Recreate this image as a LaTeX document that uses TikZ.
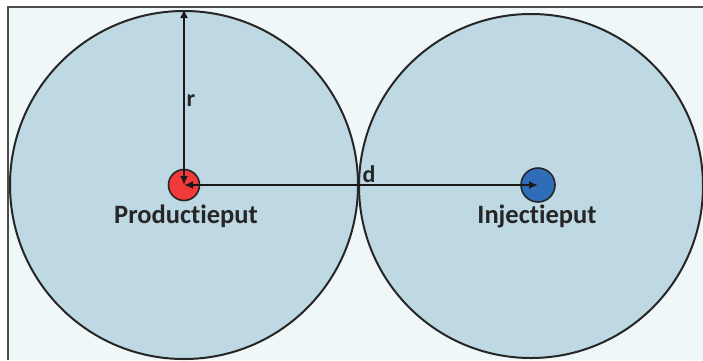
\documentclass[tikz,border=0pt]{standalone}
\usepackage{fontspec}
\setmainfont[Ligatures=NoCommon]{Carlito}
\usetikzlibrary{arrows.meta}
\definecolor{bgc}{HTML}{F0F7F9}
\definecolor{circfill}{HTML}{BFD9E4}
\definecolor{redput}{HTML}{F23A3A}
\definecolor{blueput}{HTML}{2F6DB8}
\tikzset{
  zone/.style={draw=black!85, line width=2pt, fill=circfill},
  put/.style={circle, draw=black!85, line width=1.6pt, minimum size=#1, inner sep=0pt},
  dim/.style={draw=black!90, line width=1.8pt, {Latex[length=9pt,width=8pt]}-{Latex[length=9pt,width=8pt]}},
  lbl/.style={font=\bfseries\fontsize{26.5}{28}\selectfont, text=black!85, inner sep=0pt},
}
\begin{document}
\begin{tikzpicture}[x=1pt,y=-1pt]
\useasboundingbox (0,0) rectangle (703,360);
\fill[white] (0,0) rectangle (703,360);
\fill[bgc] (8,7) rectangle (703,360);
\draw[black!70, line width=1.4pt] (8,360) -- (8,7) -- (703,7);
\begin{scope}
\clip (8,7) rectangle (703,360);
\draw[zone] (184,185) circle[radius=174];
\draw[zone] (531,186) circle[radius=172];
\end{scope}
\node[put=31pt, fill=redput] (prod) at (184,185) {};
\node[put=34pt, fill=blueput] (inj) at (538,185) {};
\coordinate (rtop) at (184,9);
\draw[dim] (prod.center) -- (rtop);
\draw[dim] (prod.center) -- (inj.center);
\node[lbl, font=\bfseries\fontsize{24}{26}\selectfont] (r) at (191,101) {r};
\node[lbl, font=\bfseries\fontsize{24}{26}\selectfont] (d) at (369,174) {d};
\node[lbl, anchor=base] (pl) at (186,223) {Productieput};
\node[lbl, anchor=base] (il) at (537,223) {Injectieput};
\end{tikzpicture}
\end{document}
